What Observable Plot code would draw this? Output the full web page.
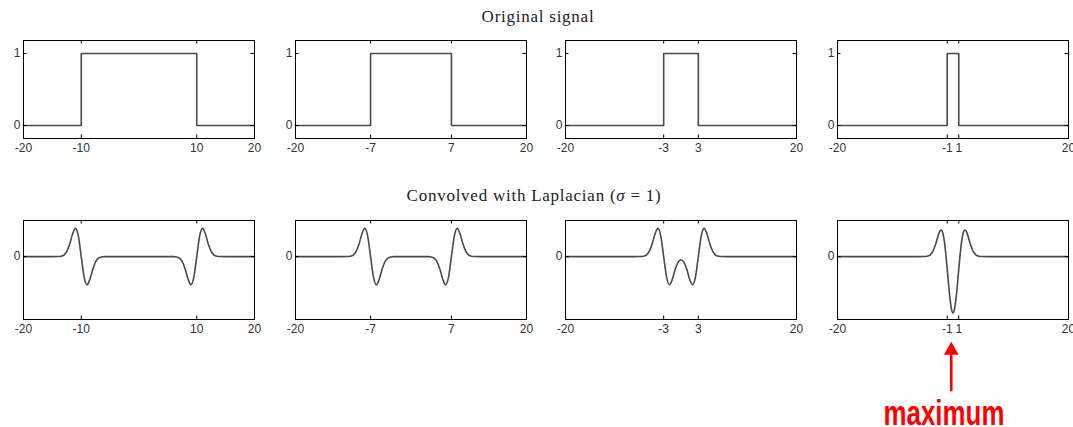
<!DOCTYPE html>
<html>
<head>
<meta charset="utf-8">
<script src="https://cdn.jsdelivr.net/npm/d3@7"></script>
<script src="https://cdn.jsdelivr.net/npm/@observablehq/plot@0.6"></script>
<style>
  html, body { margin: 0; padding: 0; background: #fff; }
  #fig { position: relative; width: 1073px; height: 427px; overflow: hidden; background: #fff; }
  .ttl { position: absolute; font-family: "Liberation Serif", "Times New Roman", serif; font-size: 17px;
         line-height: 17px; letter-spacing: 0.75px; color: #222; white-space: nowrap; transform: translateX(-50%); }
  .pnl { position: absolute; }
</style>
</head>
<body>
<div id="fig">
  <div class="ttl" style="left:538px; top:8px;">Original signal</div>
  <div class="ttl" style="left:534px; top:187px;">Convolved with Laplacian (<i>σ</i> = 1)</div>
</div>
<script>
// ---- data ----
const halfWidths = [10, 7, 3, 1];               // box half-widths of the original signals
const xTickSets = [[-20, -10, 10, 20], [-20, -7, 7, 20], [-20, -3, 3, 20], [-20, -1, 1, 20]];
const topYTicks = [0, 1];
const botYTicks = [0];

// original signals: step outlines [x, y]
const signal1 = [[-20, 0], [-10, 0], [-10, 1], [10, 1], [10, 0], [20, 0]];
const signal2 = [[-20, 0], [-7, 0], [-7, 1], [7, 1], [7, 0], [20, 0]];
const signal3 = [[-20, 0], [-3, 0], [-3, 1], [3, 1], [3, 0], [20, 0]];
const signal4 = [[-20, 0], [-1, 0], [-1, 1], [1, 1], [1, 0], [20, 0]];

// convolved signals [x, y]
const conv1 = [[-20, 0], [-15, 0], [-14, 0.0005], [-13.5, 0.003], [-13, 0.013], [-12.5, 0.044], [-12, 0.108],
  [-11.5, 0.194], [-11, 0.242], [-10.5, 0.176], [-10, 0], [-9.5, -0.176], [-9, -0.242], [-8.5, -0.194],
  [-8, -0.108], [-7.5, -0.044], [-7, -0.013], [-6.5, -0.003], [-6, -0.0005], [-5, 0], [5, 0], [6, -0.0005],
  [6.5, -0.003], [7, -0.013], [7.5, -0.044], [8, -0.108], [8.5, -0.194], [9, -0.242], [9.5, -0.176], [10, 0],
  [10.5, 0.176], [11, 0.242], [11.5, 0.194], [12, 0.108], [12.5, 0.044], [13, 0.013], [13.5, 0.003],
  [14, 0.0005], [15, 0], [20, 0]];
const conv2 = [[-20, 0], [-12, 0], [-11, 0.0005], [-10.5, 0.003], [-10, 0.013], [-9.5, 0.044], [-9, 0.108],
  [-8.5, 0.194], [-8, 0.242], [-7.5, 0.176], [-7, 0], [-6.5, -0.176], [-6, -0.242], [-5.5, -0.194],
  [-5, -0.108], [-4.5, -0.044], [-4, -0.013], [-3.5, -0.003], [-3, -0.0005], [-2, 0], [2, 0], [3, -0.0005],
  [3.5, -0.003], [4, -0.013], [4.5, -0.044], [5, -0.108], [5.5, -0.194], [6, -0.242], [6.5, -0.176], [7, 0],
  [7.5, 0.176], [8, 0.242], [8.5, 0.194], [9, 0.108], [9.5, 0.044], [10, 0.013], [10.5, 0.003],
  [11, 0.0005], [12, 0], [20, 0]];
const conv3 = [[-20, 0], [-8, 0], [-7, 0.0005], [-6.5, 0.003], [-6, 0.013], [-5.5, 0.044], [-5, 0.108],
  [-4.5, 0.194], [-4, 0.242], [-3.5, 0.176], [-3, 0], [-2.5, -0.176], [-2, -0.242], [-1.5, -0.194],
  [-1, -0.109], [-0.5, -0.047], [0, -0.027], [0.5, -0.047], [1, -0.109], [1.5, -0.194], [2, -0.242],
  [2.5, -0.176], [3, 0], [3.5, 0.176], [4, 0.242], [4.5, 0.194], [5, 0.108], [5.5, 0.044], [6, 0.013],
  [6.5, 0.003], [7, 0.0005], [8, 0], [20, 0]];
const conv4 = [[-20, 0], [-6, 0], [-5, 0.0005], [-4.5, 0.003], [-4, 0.013], [-3.5, 0.044], [-3, 0.108],
  [-2.5, 0.191], [-2.25, 0.222], [-2, 0.229], [-1.75, 0.201], [-1.5, 0.132], [-1.25, 0.025], [-1, -0.108],
  [-0.75, -0.248], [-0.5, -0.370], [-0.25, -0.454], [0, -0.484], [0.25, -0.454], [0.5, -0.370],
  [0.75, -0.248], [1, -0.108], [1.25, 0.025], [1.5, 0.132], [1.75, 0.201], [2, 0.229], [2.25, 0.222],
  [2.5, 0.191], [3, 0.108], [3.5, 0.044], [4, 0.013], [4.5, 0.003], [5, 0.0005], [6, 0], [20, 0]];

const signals = [signal1, signal2, signal3, signal4];
const convs = [conv1, conv2, conv3, conv4];

// annotation
const noteText = "maximum";
const noteArrowX = -0.3;
const noteArrowY = [-0.75, -1.16];   // tip, tail (in the panel's y units)
const noteTextPos = [-1.56, -1.45];

// ---- layout ----
const fig = document.getElementById("fig");
const frameLefts = [22.5, 295, 565, 837];
const FW = 231;
const mL = 26, mR = 12, mT = 5;

function panel(i, rowTop, FH, yDomain, yTicks, data, curve, mB, extra) {
  const xDomain = [-20, 20];
  const tx = 3.5 * (xDomain[1] - xDomain[0]) / FW;
  const ty = 3.5 * (yDomain[1] - yDomain[0]) / FH;
  const xt = xTickSets[i];
  const marks = [
    Plot.line(data, {x: d => d[0], y: d => d[1], stroke: "#4a4a4a", strokeWidth: 1.6, curve}),
    Plot.ruleX(xt, {x: d => d, y1: yDomain[0], y2: yDomain[0] + ty, stroke: "#000", strokeWidth: 1}),
    Plot.ruleX(xt, {x: d => d, y1: yDomain[1] - ty, y2: yDomain[1], stroke: "#000", strokeWidth: 1}),
    Plot.ruleY(yTicks, {y: d => d, x1: xDomain[0], x2: xDomain[0] + tx, stroke: "#000", strokeWidth: 1}),
    Plot.ruleY(yTicks, {y: d => d, x1: xDomain[1] - tx, x2: xDomain[1], stroke: "#000", strokeWidth: 1}),
    Plot.frame({stroke: "#000", strokeWidth: 1}),
    Plot.axisX(xt, {tickSize: 0, tickPadding: 5, tickFormat: d => String(d), label: null, fontSize: 12, fill: "#333"}),
    Plot.axisY(yTicks, {tickSize: 0, tickPadding: 3, tickFormat: d => String(d), label: null, fontSize: 12, fill: "#333"}),
    ...(extra || [])
  ];
  const w = mL + FW + mR, h = mT + FH + mB;
  const svg = Plot.plot({
    width: w, height: h,
    marginLeft: mL, marginRight: mR, marginTop: mT, marginBottom: mB,
    x: {domain: xDomain, axis: null},
    y: {domain: yDomain, axis: null},
    style: {fontFamily: "'Liberation Sans', Arial, sans-serif", fontSize: "12px", maxWidth: "none", background: "transparent", overflow: "visible"},
    marks
  });
  const div = document.createElement("div");
  div.className = "pnl";
  div.style.left = (frameLefts[i] - mL) + "px";
  div.style.top = (rowTop - mT) + "px";
  div.style.width = w + "px";
  div.style.height = h + "px";
  div.appendChild(svg);
  fig.appendChild(div);
  return svg;
}

const topDomain = [-0.18, 1.18];
const botDomain = [-0.54, 0.31];
for (let i = 0; i < 4; i++) {
  panel(i, 40, 98, topDomain, topYTicks, signals[i], "linear", 22);
}
for (let i = 0; i < 3; i++) {
  panel(i, 220, 99, botDomain, botYTicks, convs[i], "monotone-x", 22);
}
const annot = [
  Plot.ruleX([noteArrowX], {x: d => d, y1: noteArrowY[0] - 0.08, y2: noteArrowY[1], stroke: "#ff0000", strokeWidth: 2.6}),
  Plot.dot([noteArrowX], {x: d => d, y: noteArrowY[0] - 0.055, symbol: "triangle", r: 5.5, fill: "#ff0000", stroke: "none"}),
  Plot.text([noteText], {x: noteTextPos[0], y: noteTextPos[1], text: d => d, fill: "#ff0000", fontSize: 35,
    fontWeight: "bold", textAnchor: "middle", lineAnchor: "bottom", className: "note"})
];
const svg4 = panel(3, 220, 99, botDomain, botYTicks, conv4, "monotone-x", 427 - 319 + 5, annot);
d3.select(svg4).selectAll("g.note text")
  .attr("textLength", 121)
  .attr("lengthAdjust", "spacingAndGlyphs");
</script>
</body>
</html>
